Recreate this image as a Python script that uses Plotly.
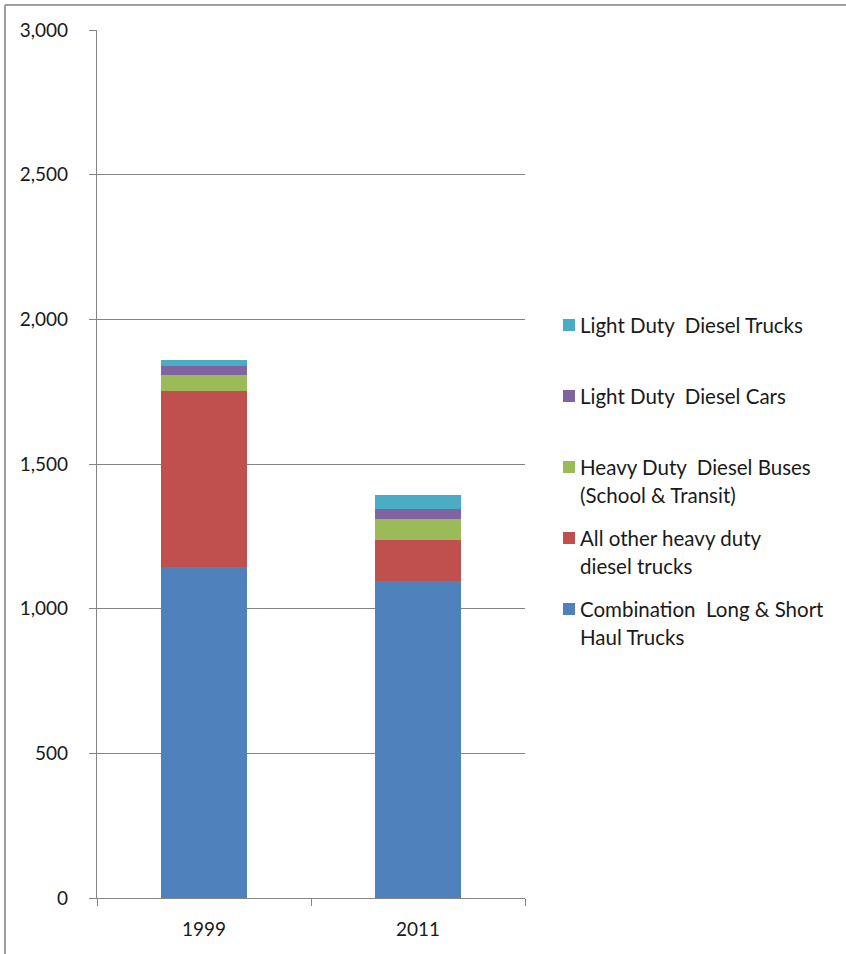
import plotly.graph_objects as go

# ---- data ----
years = ["1999", "2011"]
combination_trucks = [1144, 1094]
other_heavy_trucks = [610, 142]
heavy_buses = [55, 74]
light_cars = [30, 34]
light_trucks = [19, 49]

series = [
    (["Combination  Long & Short", "Haul Trucks"], combination_trucks, "#4F81BD"),
    (["All other heavy duty", "diesel trucks"], other_heavy_trucks, "#C0504D"),
    (["Heavy Duty  Diesel Buses", "(School & Transit)"], heavy_buses, "#9BBB59"),
    (["Light Duty  Diesel Cars"], light_cars, "#8064A2"),
    (["Light Duty  Diesel Trucks"], light_trucks, "#4BACC6"),
]
y_ticks = [0, 500, 1000, 1500, 2000, 2500, 3000]

W, H = 846, 954
L, R, T, B = 97, 525, 30, 898
FONT = "Lato"
FS = 19
TXT = "#1a1a1a"
GRID = "#858585"


def px(xp):
    return (xp - L) / (R - L)


def py(yp):
    return (B - yp) / (B - T)


fig = go.Figure()
for lines, vals, col in series:
    fig.add_trace(go.Bar(x=years, y=vals, name=" ".join(lines), marker_color=col,
                         marker_line_width=0, width=0.4, showlegend=False))

# custom legend (Excel-like spacing)
legend_rows = [  # (series index, first-line pixel y)
    (4, 325), (3, 396), (2, 467), (1, 538), (0, 609)
]
shapes = []
annotations = []
for idx, y0 in legend_rows:
    lines, vals, col = series[idx]
    shapes.append(dict(type="rect", xref="paper", yref="paper",
                       x0=px(563), x1=px(575), y0=py(y0 + 6), y1=py(y0 - 6),
                       fillcolor=col, line_width=0))
    for k, line in enumerate(lines):
        annotations.append(dict(text=line, xref="paper", yref="paper",
                                x=px(578), y=py(y0 + k * 27.5), xanchor="left",
                                yanchor="middle", showarrow=False,
                                font=dict(family=FONT, size=20.5, color=TXT)))

# outer frame (top and left edges)
shapes.append(dict(type="line", xref="paper", yref="paper", x0=px(5), x1=px(W),
                   y0=py(5), y1=py(5), line=dict(color="#a0a0a0", width=2)))
shapes.append(dict(type="line", xref="paper", yref="paper", x0=px(5), x1=px(5),
                   y0=py(5), y1=py(H), line=dict(color="#a0a0a0", width=2)))

fig.update_layout(
    width=W, height=H,
    margin=dict(l=L, r=W - R, t=T, b=H - B, pad=0),
    barmode="stack",
    plot_bgcolor="white", paper_bgcolor="white",
    font=dict(family=FONT, size=FS, color=TXT),
    shapes=shapes, annotations=annotations,
    xaxis=dict(type="category", showline=True, linecolor=GRID, linewidth=1.3,
               ticks="outside", tickson="boundaries", ticklen=7, tickcolor=GRID,
               tickwidth=1.3, showgrid=False, range=[-0.5, 1.5],
               ticklabelstandoff=14,
               tickfont=dict(family=FONT, size=FS, color=TXT)),
    yaxis=dict(range=[0, 3000], tickvals=y_ticks, tickformat=",", showline=True,
               linecolor=GRID, linewidth=1.3, ticks="outside", ticklen=7,
               tickcolor=GRID, tickwidth=1.3, showgrid=True, gridcolor=GRID,
               gridwidth=1.3, zeroline=False, ticklabelstandoff=17,
               tickfont=dict(family=FONT, size=FS, color=TXT)),
)

fig.write_html("out.html")
